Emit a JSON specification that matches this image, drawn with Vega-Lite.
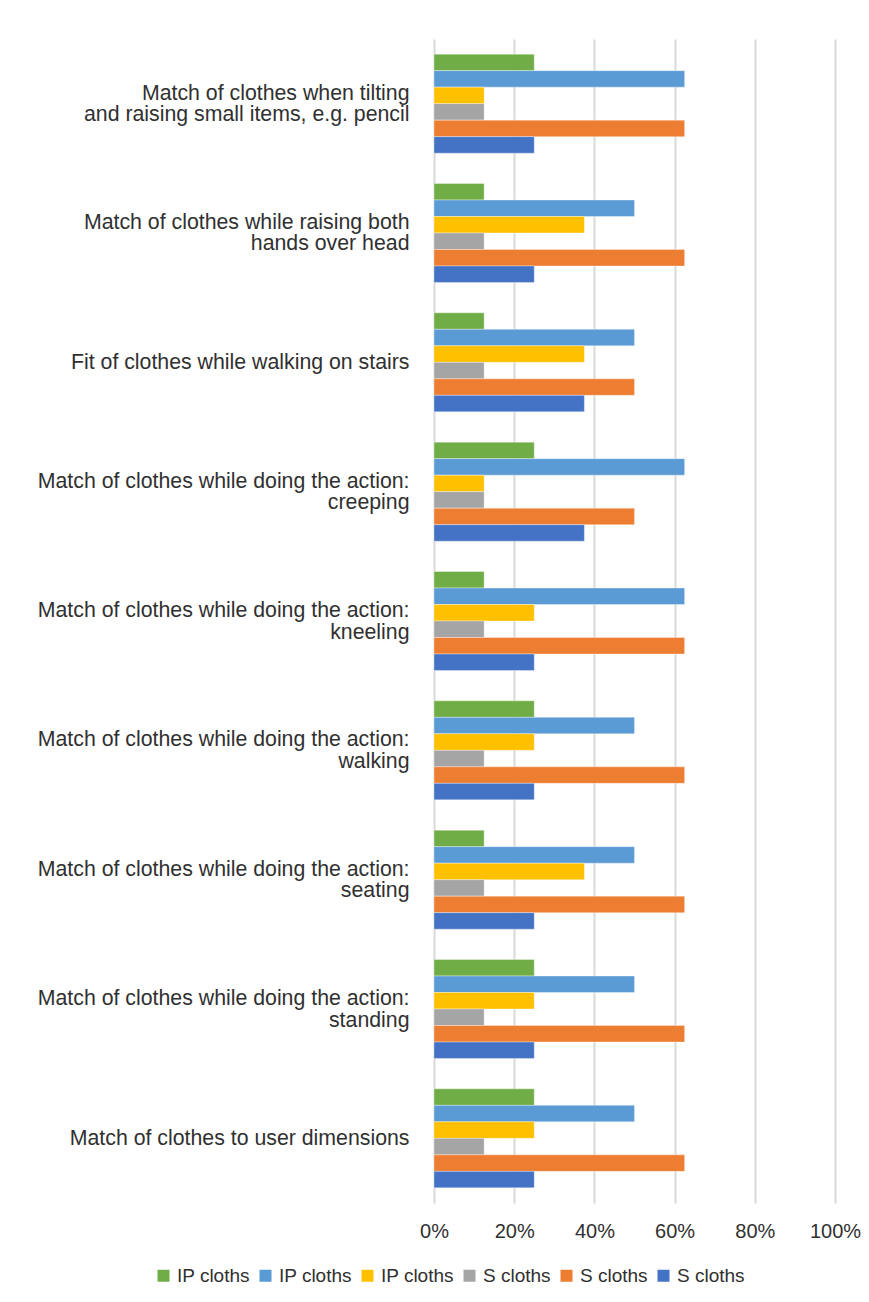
{
  "$schema": "https://vega.github.io/schema/vega-lite/v6.json",
  "autosize": {"type": "none"},
  "padding": {"left": 434, "top": 39, "right": 34, "bottom": 99},
  "width": 401,
  "height": 1164,
  "background": "white",
  "config": {
    "font": "Liberation Sans",
    "view": {"stroke": null}
  },
  "data": {
    "values": [
      {"item": "Match of clothes when tilting|and raising small items, e.g. pencil", "series": "IP1", "share": 0.25},
      {"item": "Match of clothes when tilting|and raising small items, e.g. pencil", "series": "IP2", "share": 0.625},
      {"item": "Match of clothes when tilting|and raising small items, e.g. pencil", "series": "IP3", "share": 0.125},
      {"item": "Match of clothes when tilting|and raising small items, e.g. pencil", "series": "S1", "share": 0.125},
      {"item": "Match of clothes when tilting|and raising small items, e.g. pencil", "series": "S2", "share": 0.625},
      {"item": "Match of clothes when tilting|and raising small items, e.g. pencil", "series": "S3", "share": 0.25},

      {"item": "Match of clothes while raising both|hands over head", "series": "IP1", "share": 0.125},
      {"item": "Match of clothes while raising both|hands over head", "series": "IP2", "share": 0.5},
      {"item": "Match of clothes while raising both|hands over head", "series": "IP3", "share": 0.375},
      {"item": "Match of clothes while raising both|hands over head", "series": "S1", "share": 0.125},
      {"item": "Match of clothes while raising both|hands over head", "series": "S2", "share": 0.625},
      {"item": "Match of clothes while raising both|hands over head", "series": "S3", "share": 0.25},

      {"item": "Fit of clothes while walking on stairs", "series": "IP1", "share": 0.125},
      {"item": "Fit of clothes while walking on stairs", "series": "IP2", "share": 0.5},
      {"item": "Fit of clothes while walking on stairs", "series": "IP3", "share": 0.375},
      {"item": "Fit of clothes while walking on stairs", "series": "S1", "share": 0.125},
      {"item": "Fit of clothes while walking on stairs", "series": "S2", "share": 0.5},
      {"item": "Fit of clothes while walking on stairs", "series": "S3", "share": 0.375},

      {"item": "Match of clothes while doing the action:|creeping", "series": "IP1", "share": 0.25},
      {"item": "Match of clothes while doing the action:|creeping", "series": "IP2", "share": 0.625},
      {"item": "Match of clothes while doing the action:|creeping", "series": "IP3", "share": 0.125},
      {"item": "Match of clothes while doing the action:|creeping", "series": "S1", "share": 0.125},
      {"item": "Match of clothes while doing the action:|creeping", "series": "S2", "share": 0.5},
      {"item": "Match of clothes while doing the action:|creeping", "series": "S3", "share": 0.375},

      {"item": "Match of clothes while doing the action:|kneeling", "series": "IP1", "share": 0.125},
      {"item": "Match of clothes while doing the action:|kneeling", "series": "IP2", "share": 0.625},
      {"item": "Match of clothes while doing the action:|kneeling", "series": "IP3", "share": 0.25},
      {"item": "Match of clothes while doing the action:|kneeling", "series": "S1", "share": 0.125},
      {"item": "Match of clothes while doing the action:|kneeling", "series": "S2", "share": 0.625},
      {"item": "Match of clothes while doing the action:|kneeling", "series": "S3", "share": 0.25},

      {"item": "Match of clothes while doing the action:|walking", "series": "IP1", "share": 0.25},
      {"item": "Match of clothes while doing the action:|walking", "series": "IP2", "share": 0.5},
      {"item": "Match of clothes while doing the action:|walking", "series": "IP3", "share": 0.25},
      {"item": "Match of clothes while doing the action:|walking", "series": "S1", "share": 0.125},
      {"item": "Match of clothes while doing the action:|walking", "series": "S2", "share": 0.625},
      {"item": "Match of clothes while doing the action:|walking", "series": "S3", "share": 0.25},

      {"item": "Match of clothes while doing the action:|seating", "series": "IP1", "share": 0.125},
      {"item": "Match of clothes while doing the action:|seating", "series": "IP2", "share": 0.5},
      {"item": "Match of clothes while doing the action:|seating", "series": "IP3", "share": 0.375},
      {"item": "Match of clothes while doing the action:|seating", "series": "S1", "share": 0.125},
      {"item": "Match of clothes while doing the action:|seating", "series": "S2", "share": 0.625},
      {"item": "Match of clothes while doing the action:|seating", "series": "S3", "share": 0.25},

      {"item": "Match of clothes while doing the action:|standing", "series": "IP1", "share": 0.25},
      {"item": "Match of clothes while doing the action:|standing", "series": "IP2", "share": 0.5},
      {"item": "Match of clothes while doing the action:|standing", "series": "IP3", "share": 0.25},
      {"item": "Match of clothes while doing the action:|standing", "series": "S1", "share": 0.125},
      {"item": "Match of clothes while doing the action:|standing", "series": "S2", "share": 0.625},
      {"item": "Match of clothes while doing the action:|standing", "series": "S3", "share": 0.25},

      {"item": "Match of clothes to user dimensions", "series": "IP1", "share": 0.25},
      {"item": "Match of clothes to user dimensions", "series": "IP2", "share": 0.5},
      {"item": "Match of clothes to user dimensions", "series": "IP3", "share": 0.25},
      {"item": "Match of clothes to user dimensions", "series": "S1", "share": 0.125},
      {"item": "Match of clothes to user dimensions", "series": "S2", "share": 0.625},
      {"item": "Match of clothes to user dimensions", "series": "S3", "share": 0.25}
    ]
  },
  "mark": {"type": "bar", "stroke": "white", "strokeWidth": 1, "strokeOpacity": 0.35},
  "encoding": {
    "y": {
      "field": "item",
      "type": "nominal",
      "sort": null,
      "scale": {"paddingInner": 0.2345, "paddingOuter": 0.117},
      "axis": {
        "title": null,
        "domain": false,
        "ticks": false,
        "tickSize": 0,
        "grid": false,
        "labelPadding": 25,
        "labelFontSize": 21.3,
        "labelLineHeight": 21.5,
        "labelColor": "#303030",
        "labelLimit": 600,
        "labelAlign": "right",
        "labelBaseline": "middle",
        "labelOffset": {"condition": {"test": "indexof(datum.label, '|') >= 0", "value": -10}, "value": 1},
        "labelExpr": "split(datum.label, '|')"
      }
    },
    "yOffset": {
      "field": "series",
      "type": "nominal",
      "sort": ["IP1", "IP2", "IP3", "S1", "S2", "S3"],
      "scale": {"paddingInner": 0, "paddingOuter": 0}
    },
    "x": {
      "field": "share",
      "type": "quantitative",
      "scale": {"domain": [0, 1], "nice": false},
      "axis": {
        "title": null,
        "values": [0, 0.2, 0.4, 0.6, 0.8, 1],
        "format": ".0%",
        "domain": false,
        "ticks": false,
        "tickSize": 0,
        "grid": true,
        "gridColor": "#d9d9d9",
        "gridWidth": 2,
        "labelPadding": 18,
        "labelFontSize": 20,
        "labelColor": "#303030",
        "labelFlush": false
      }
    },
    "color": {
      "field": "series",
      "type": "nominal",
      "sort": ["IP1", "IP2", "IP3", "S1", "S2", "S3"],
      "scale": {
        "domain": ["IP1", "IP2", "IP3", "S1", "S2", "S3"],
        "range": ["#70ad47", "#5b9bd5", "#ffc000", "#a5a5a5", "#ed7d31", "#4472c4"]
      },
      "legend": {
        "title": null,
        "orient": "none",
        "direction": "horizontal",
        "legendX": -280,
        "legendY": 1227,
        "padding": 0,
        "symbolType": "square",
        "symbolSize": 144,
        "symbolStrokeWidth": 0,
        "symbolOpacity": 1,
        "labelFontSize": 19,
        "labelColor": "#303030",
        "labelOffset": 4,
        "columnPadding": 6,
        "labelLimit": 200,
        "labelExpr": "indexof(datum.label, 'IP') == 0 ? 'IP cloths' : 'S cloths'"
      }
    }
  }
}
